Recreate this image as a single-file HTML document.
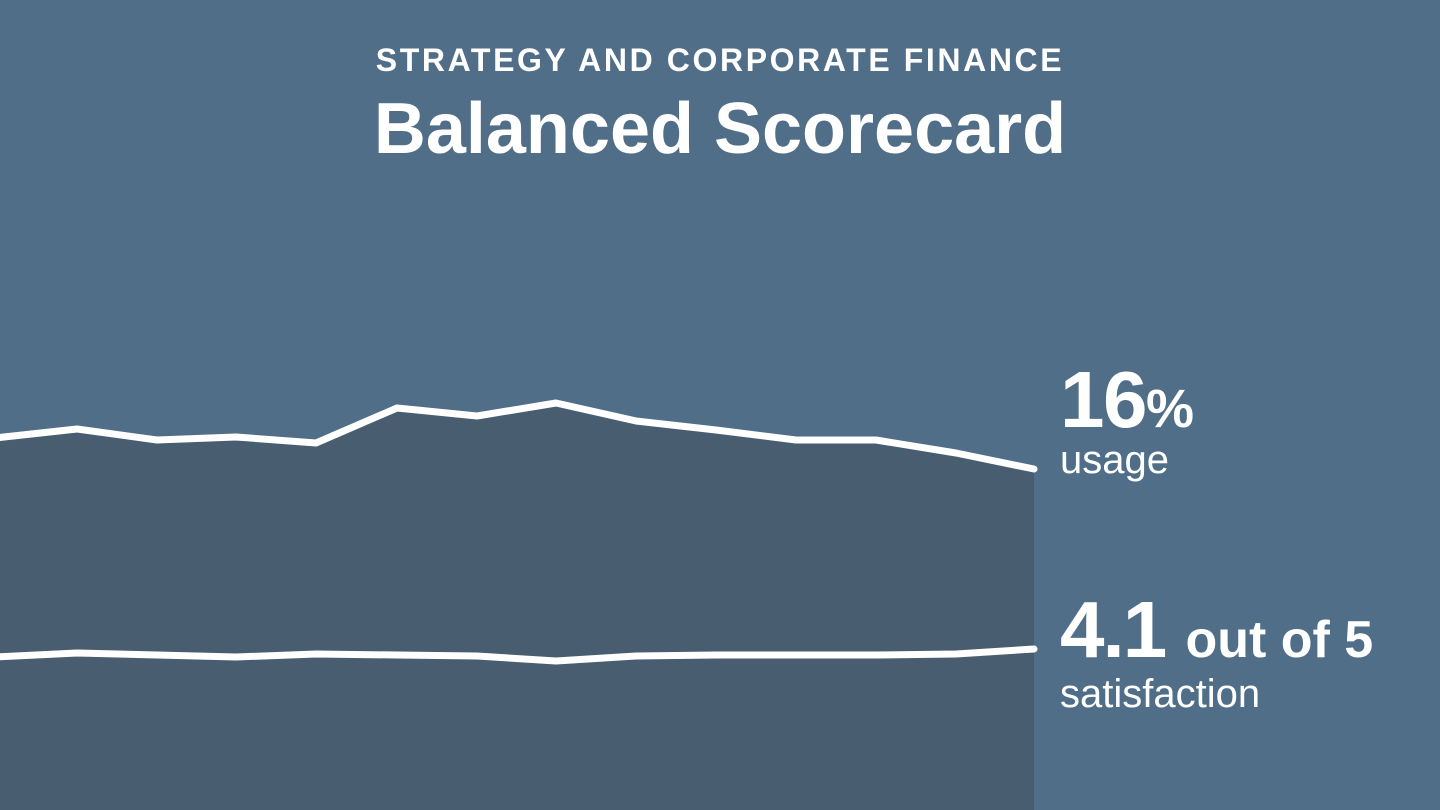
<!DOCTYPE html>
<html><head><meta charset="utf-8"><style>
html,body{margin:0;padding:0;}
body{width:1440px;height:810px;background:#506e88;position:relative;overflow:hidden;font-family:"Liberation Sans",sans-serif;color:#fff;}
.t{position:absolute;left:0;width:1440px;text-align:center;white-space:nowrap;}
.a{position:absolute;left:1060px;white-space:nowrap;line-height:1;}
</style></head><body>
<svg width="1440" height="810" style="position:absolute;left:0;top:0">
<polygon fill="#485d6f" points="0,438 77,429 157,440 236,437 316,443 397,408 477,416 556,403 636,421 716,430 796,440 876,440 956,453 1034,469 1034,810 0,810"/>
<polyline fill="none" stroke="#fff" stroke-width="7" stroke-linejoin="round" stroke-linecap="round" points="-5,438 77,429 157,440 236,437 316,443 397,408 477,416 556,403 636,421 716,430 796,440 876,440 956,453 1034,469"/>
<polyline fill="none" stroke="#fff" stroke-width="7" stroke-linejoin="round" stroke-linecap="round" points="-5,657 77,653 157,655 236,657 316,654 397,655 477,656 556,661 636,656 716,655 796,655 876,655 956,654 1034,649"/>
</svg>
<div class="t" style="top:42px;font-size:32px;letter-spacing:2.6px;font-weight:bold;">STRATEGY AND CORPORATE FINANCE</div>
<div class="t" style="top:88px;font-size:72px;font-weight:bold;">Balanced Scorecard</div>
<div class="a" style="top:360px;font-size:80px;font-weight:bold;letter-spacing:-1.5px;">16<span style="font-size:54px;letter-spacing:0">%</span></div>
<div class="a" style="top:440px;font-size:40px;">usage</div>
<div class="a" style="top:590px;font-size:80px;font-weight:bold;letter-spacing:-2px;">4.1 <span style="font-size:52px;letter-spacing:0">out of 5</span></div>
<div class="a" style="top:674px;font-size:40px;">satisfaction</div>
</body></html>
